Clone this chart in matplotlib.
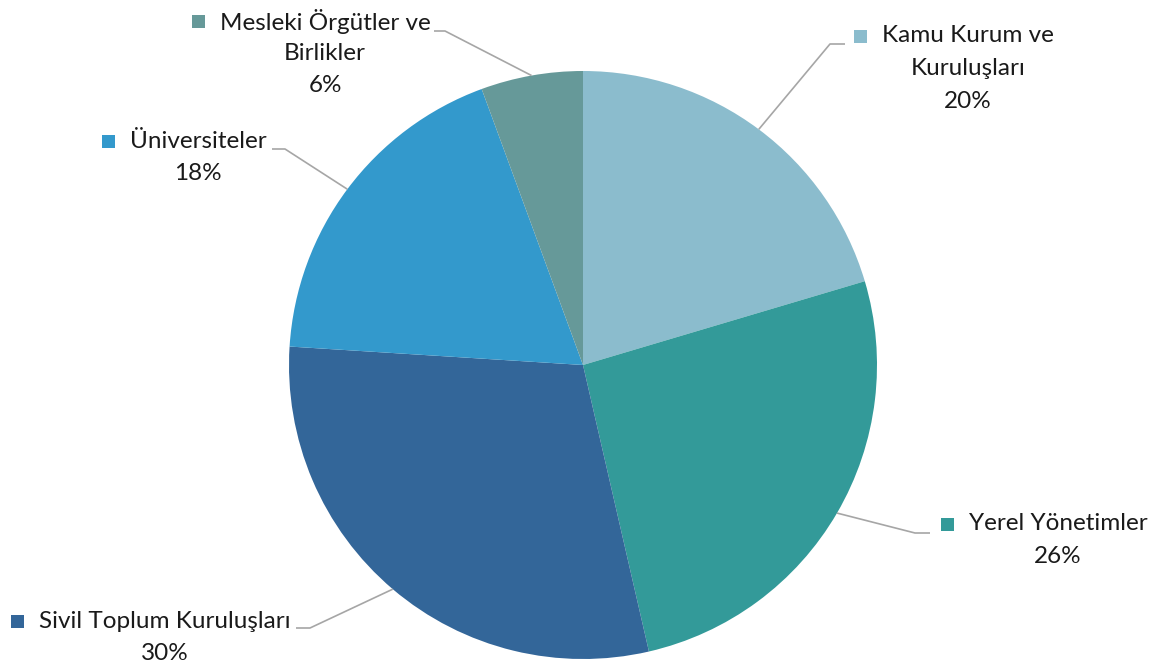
import numpy as np
import matplotlib.pyplot as plt

plt.rcParams['font.family'] = ['Lato', 'DejaVu Sans']

categories = ["Kamu Kurum ve\nKuruluşları", "Yerel Yönetimler", "Sivil Toplum Kuruluşları",
              "Üniversiteler", "Mesleki Örgütler ve\nBirlikler"]
values = [20.4, 26.0, 29.6, 18.4, 5.6]
colors = ["#8BBCCD", "#339A99", "#336699", "#3399CC", "#669999"]

W, H = 1157, 668
fig = plt.figure(figsize=(W / 100, H / 100), dpi=100)
ax = fig.add_axes([0, 0, 1, 1])

cx, cy, r = 583, H - 365, 294
wedges, _ = ax.pie(values, colors=colors, startangle=90, counterclock=False,
                   center=(cx, cy), radius=r, wedgeprops=dict(linewidth=0))
ax.set_xlim(0, W)
ax.set_ylim(0, H)
ax.set_aspect("equal")
ax.axis("off")

# label text centre x, first line y (px from top), leader elbow and end (px)
label_pos = [(968, 36), (1058, 524), (165, 621), (198, 141), (325, 21)]
elbows = [((830, 44), (845, 44)), ((915, 533), (930, 533)), ((310, 628), (296, 628)),
          ((285, 149), (272, 149)), ((445, 31), (434, 31))]

fig.canvas.draw()
renderer = fig.canvas.get_renderer()
for w, cat, v, col, (lx, ly), (e1, e2) in zip(wedges, categories, values, colors, label_pos, elbows):
    ang = np.deg2rad((w.theta1 + w.theta2) / 2)
    px, py = cx + r * np.cos(ang), cy + r * np.sin(ang)
    ax.plot([px, e1[0], e2[0]], [py, H - e1[1], H - e2[1]], color="#A6A6A6", lw=1.2,
            solid_capstyle="butt")
    lines = cat.split("\n") + [f"{v:.0f}%"]
    for i, line in enumerate(lines):
        t = ax.text(lx, H - ly - i * 32.5, line, ha="center", va="center", fontsize=17.5, color="#1a1a1a")
        if i == 0:
            bb = t.get_window_extent(renderer)
            ax.add_patch(plt.Rectangle((bb.x0 - 28, H - ly - 6.5), 13, 13, color=col, lw=0))

fig.savefig("out.png", dpi=100)
